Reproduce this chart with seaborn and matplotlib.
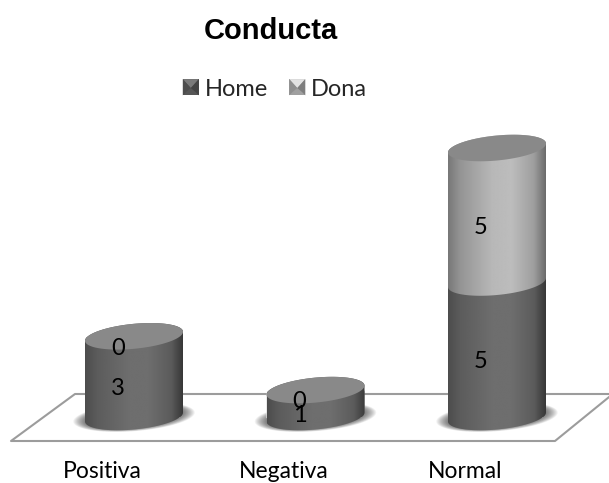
import numpy as np
import matplotlib
matplotlib.use("Agg")
import matplotlib.pyplot as plt
import seaborn as sns
from matplotlib.legend_handler import HandlerPatch
from matplotlib.lines import Line2D
from matplotlib.patches import Polygon, Rectangle
from matplotlib.path import Path
from matplotlib.transforms import ScaledTranslation

categorias = ["Positiva", "Negativa", "Normal"]
home = [3, 1, 5]
dona = [0, 0, 5]

# mida de la figura i escales en pixels
W, H = 609, 483
PX_X = 181.5   # pixels per categoria
PX_Y = 26.9    # pixels per unitat
BASE_Y = 417   # pixel on cau el zero
AX_BOTTOM = 450

sns.set_theme(style="white")
plt.rcParams["font.family"] = ["Lato", "DejaVu Sans"]

fig = plt.figure(figsize=(W / 100, H / 100), dpi=100)
ax = fig.add_axes([0, 1 - AX_BOTTOM / H, 1, AX_BOTTOM / H])

sns.barplot(x=categorias, y=home, color="#5a5a5a", width=0.54, ax=ax, zorder=3)
sns.barplot(x=categorias, y=dona, bottom=home, color="#a8a8a8", width=0.54, ax=ax, zorder=3)

ax.set_xlim(-134 / PX_X, (W - 134) / PX_X)
ax.set_ylim((BASE_Y - AX_BOTTOM) / PX_Y, BASE_Y / PX_Y)
sns.despine(ax=ax, left=True, bottom=True)
ax.set_yticks([])
ax.tick_params(axis="x", length=0, pad=8, labelsize=16.5, labelcolor="black")
# les etiquetes van desplacades a l'esquerra de cada cilindre
desplacament = ScaledTranslation(-32 / 100, 0, fig.dpi_scale_trans)
for lab in ax.get_xticklabels():
    lab.set_transform(lab.get_transform() + desplacament)


def vora(xc, nivell, t):
    # punts de l'el.lipse inclinada a l'altura d'un valor
    r = 49 / PX_X
    return (xc + r * np.cos(t), nivell + (4.5 * np.cos(t) + 12.5 * np.sin(t)) / PX_Y)


def forma_cos(xc, baix, alt):
    t1 = np.linspace(np.pi, 2 * np.pi, 60)
    t2 = np.linspace(0, np.pi, 60)
    x1, y1 = vora(xc, baix, t1)
    x2, y2 = vora(xc, alt, t2)
    return Path(np.r_[np.c_[x1, y1], np.c_[x2, y2], [[x1[0], y1[0]]]], closed=True)


def degradat(xc, baix, alt, pos, tons):
    ramp = np.interp(np.linspace(0, 1, 200), pos, tons)[None, :]
    r = 49 / PX_X
    marge = 20 / PX_Y
    im = ax.imshow(ramp, cmap="gray", vmin=0, vmax=1, aspect="auto", zorder=4,
                   extent=(xc - r, xc + r, baix - marge, alt + marge), interpolation="bilinear")
    im.set_clip_path(forma_cos(xc, baix, alt), ax.transData)


tons_home = [0.30, 0.36, 0.43, 0.43, 0.36, 0.22]
tons_dona = [0.47, 0.58, 0.72, 0.74, 0.62, 0.42]
pos_tons = [0, 0.12, 0.45, 0.65, 0.88, 1]

barres_home, barres_dona = ax.containers[0], ax.containers[1]
for i, (bh, bd) in enumerate(zip(barres_home, barres_dona)):
    xc = bh.get_x() + bh.get_width() / 2
    bh.set_clip_path(forma_cos(xc, 0, home[i]), ax.transData)
    bd.set_clip_path(forma_cos(xc, home[i], home[i] + dona[i]), ax.transData)

    # ombra sota el cilindre
    for k in range(14):
        esc = 1.24 - k * 0.02
        t = np.linspace(0, 2 * np.pi, 100)
        ox = xc + 49 / PX_X * esc * np.cos(t)
        oy = (4.5 * np.cos(t) + 11.5 * esc * np.sin(t)) / PX_Y
        ax.fill(ox, oy, color="black", alpha=0.05, lw=0, zorder=2)

    degradat(xc, 0, home[i], pos_tons, tons_home)
    if dona[i] > 0:
        degradat(xc, home[i], home[i] + dona[i], pos_tons, tons_dona)

    total = home[i] + dona[i]
    x, y = vora(xc, total, np.linspace(0, 2 * np.pi, 120))
    ax.fill(x, y, color="#898989", lw=0, zorder=5)

    # etiquetes de valor
    for val, centre in ((home[i], home[i] / 2), (dona[i], home[i] + dona[i] / 2)):
        ax.annotate(str(val), (xc, centre), xytext=(-11.5, -8.5), textcoords="offset points",
                    ha="center", va="center", fontsize=17, color="black", zorder=6)

# terra del grafic
terra = [(W + 5, 394), (75, 394), (11, 441), (555, 441), (W + 5, 393)]
fig.add_artist(Line2D([p[0] / W for p in terra], [1 - p[1] / H for p in terra],
                      color="#9c9c9c", lw=1.5, zorder=0))
ax.patch.set_alpha(0)
ax.set_zorder(1)

fig.text(271 / W, 1 - 31 / H, "Conducta", family="Liberation Sans", fontweight="bold",
         fontsize=21, ha="center", va="center", color="black")


class Bisellat(HandlerPatch):
    # quadrat de llegenda amb les vores en bisell
    def create_artists(self, legend, orig, xd, yd, w, h, fs, trans):
        g = matplotlib.colors.to_rgb(orig.get_facecolor())[0]
        a, b = (-xd, -yd), (-xd + w, -yd)
        c, d = (-xd + w, -yd + h), (-xd, -yd + h)
        i1, i2 = (-xd + w * .2, -yd + h * .2), (-xd + w * .8, -yd + h * .2)
        m = (-xd + w / 2, -yd + h * .45)
        ps = [([a, b, c, d], g * 0.95), ([d, c, m], g * 1.35), ([a, i1, m, d], g * 0.85), ([b, c, m, i2], g * 0.75)]
        return [Polygon(p, closed=True, facecolor=str(min(v, 1)), edgecolor="none", transform=trans)
                for p, v in ps]


handles = [Rectangle((0, 0), 1, 1, facecolor="#5a5a5a"), Rectangle((0, 0), 1, 1, facecolor="#a8a8a8")]
leg = fig.legend(handles, ["Home", "Dona"], ncols=2, loc="center", bbox_to_anchor=(275 / W, 1 - 89 / H),
                 frameon=False, fontsize=17, handlelength=0.68, handleheight=0.68, handletextpad=0.25,
                 columnspacing=0.9, handler_map={Rectangle: Bisellat()})

fig.savefig("out.png", dpi=100)
